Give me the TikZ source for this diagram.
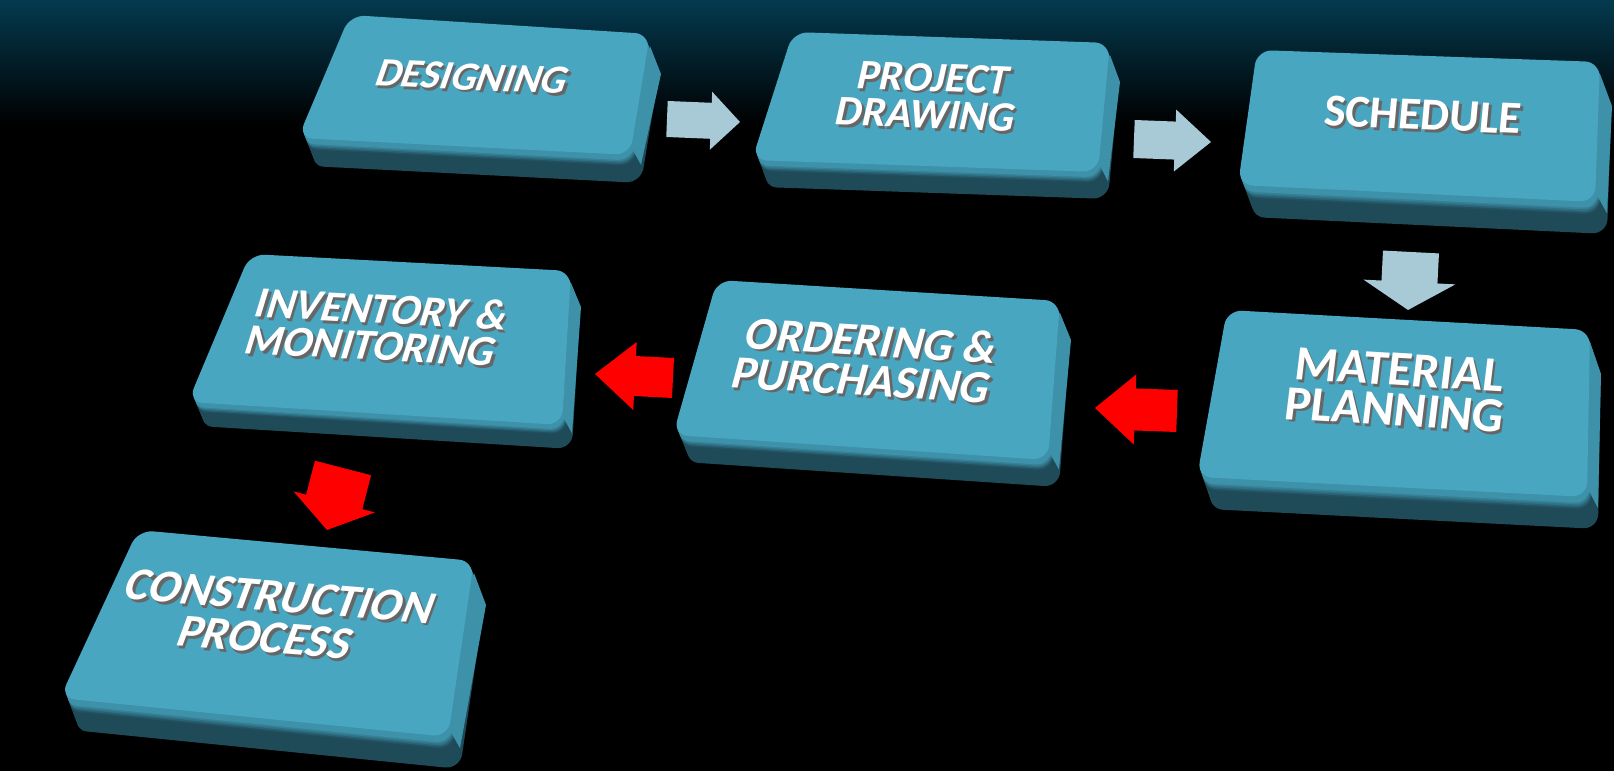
\documentclass[tikz,border=0pt]{standalone}
\usepackage{fontspec}
\setmainfont{Carlito}
\usetikzlibrary{calc}

\definecolor{keyface}{HTML}{48A6C0}
\definecolor{keyrimc}{HTML}{3D91A9}
\definecolor{keybasec}{HTML}{1F4B59}
\definecolor{paleblue}{HTML}{A8C9D6}
\definecolor{bgteal}{HTML}{043A4F}
\definecolor{letshade}{HTML}{666666}

\tikzstyle{face} = [fill=keyface, rounded corners=0.15cm]
\tikzstyle{solid} = [rounded corners=0.15cm]
\tikzstyle{keytext} = [align=center, text=white, inner sep=0pt]
\tikzstyle{pale} = [fill=paleblue]
\tikzstyle{hot} = [fill=red]

% key: name, four corners of the face, depth offset (x, y)
\newcommand{\keybox}[7]{%
  \coordinate (#1-tl) at #2;
  \coordinate (#1-tr) at #3;
  \coordinate (#1-br) at #4;
  \coordinate (#1-bl) at #5;
  \foreach \t in {1,0.95,...,0.04} {
    \pgfmathsetmacro\p{max(0,min(100,(\t-0.2)*450))}
    \fill[solid, fill=keybasec!\p!keyrimc]
      ([shift={(\t*#6,\t*#7)}]#1-tl) -- ([shift={(\t*#6,\t*#7)}]#1-tr)
      -- ([shift={(\t*#6,\t*#7)}]#1-br) -- ([shift={(\t*#6,\t*#7)}]#1-bl) -- cycle;
  }
  % lit right side
  \fill[keyrimc] ([yshift=-0.12cm]#1-tr) -- ([shift={(#6,#7)}, yshift=-0.12cm]#1-tr)
    -- ([shift={(#6,0.35*#7)}]#1-br) -- ([yshift=0.1cm]#1-br) -- cycle;
  \fill[face] (#1-tl) -- (#1-tr) -- (#1-br) -- (#1-bl) -- cycle;
}

% label: name, position, rotation, slant, font size, line skip, text
\newcommand{\keylabel}[7]{%
  \node[keytext, text=letshade, font=\bfseries\fontsize{#5}{#6}\selectfont,
        xshift=0.7pt, yshift=-0.8pt, rotate=#3, xslant=#4] at #2 {#7};
  \node[keytext, font=\bfseries\fontsize{#5}{#6}\selectfont,
        rotate=#3, xslant=#4] (#1) at #2 {#7};
}

% block arrow: style, tail, tip, body half width, head half width, head length
\newcommand{\blockarrow}[6]{%
  \coordinate (hb) at ($(#3)!#6!(#2)$);
  \fill[#1] ($(#2)!#4!90:(#3)$) -- ($(hb)!#4!90:(#3)$) -- ($(hb)!#5!90:(#3)$) -- (#3)
    -- ($(hb)!#5!-90:(#3)$) -- ($(hb)!#4!-90:(#3)$) -- ($(#2)!#4!-90:(#3)$) -- cycle;
}

\begin{document}
\begin{tikzpicture}[x=0.01cm, y=-0.01cm]
% backdrop
\fill[black] (0,0) rectangle (1614,771);
\shade[top color=bgteal, bottom color=black] (0,0) rectangle (1614,125);

% the keys
\keybox{k1}{(350,15)}{(650,34)}{(630,155)}{(298,138)}{11}{28}
\keybox{k2}{(793,32)}{(1110,43)}{(1098,172)}{(752,160)}{10}{27}
\keybox{k3}{(1257,50)}{(1600,62)}{(1595,202)}{(1238,185)}{12}{32}
\keybox{k4}{(1227,310)}{(1590,330)}{(1587,497)}{(1197,477)}{11}{32}
\keybox{k5}{(717,280)}{(1060,301)}{(1048,460)}{(673,435)}{11}{27}
\keybox{k6}{(250,254)}{(571,271)}{(562,425)}{(188,402)}{10}{24}
\keybox{k7}{(138,530)}{(474,561)}{(448,737)}{(60,698)}{12}{32}

\keylabel{design}{(473,77)}{-2.5}{0.3}{11.5}{10}{DESIGNING}
\keylabel{drawing}{(930,96)}{-2.3}{0.18}{12}{10.5}{PROJECT\\DRAWING}
\keylabel{schedule}{(1423,115)}{-2.4}{0.05}{13}{11}{SCHEDULE}
\keylabel{material}{(1397,390)}{-3.5}{0.06}{14}{11.5}{MATERIAL\\PLANNING}
\keylabel{ordering}{(867,360)}{-3.5}{0.2}{13.2}{11.4}{ORDERING \&\\PURCHASING}
\keylabel{inventory}{(377,327)}{-3}{0.25}{12.3}{10.5}{INVENTORY \&\\MONITORING}
\keylabel{construct}{(273,617)}{-4.6}{0.28}{13.2}{12}{CONSTRUCTION\\PROCESS}

% arrows between the keys
\coordinate (a1s) at (667,119);  \coordinate (a1e) at (740,122);
\coordinate (a2s) at (1134,139); \coordinate (a2e) at (1211,142);
\coordinate (a3s) at (1411,252); \coordinate (a3e) at (1408,310);
\coordinate (a4s) at (1177,411); \coordinate (a4e) at (1095,408);
\coordinate (a5s) at (673,378);  \coordinate (a5e) at (595,374);
\coordinate (a6s) at (343,468);  \coordinate (a6e) at (327,530);

\blockarrow{pale}{a1s}{a1e}{0.18cm}{0.29cm}{0.29cm}
\blockarrow{pale}{a2s}{a2e}{0.19cm}{0.31cm}{0.36cm}
\blockarrow{pale}{a3s}{a3e}{0.28cm}{0.46cm}{0.28cm}
\blockarrow{hot}{a4s}{a4e}{0.21cm}{0.35cm}{0.40cm}
\blockarrow{hot}{a5s}{a5e}{0.20cm}{0.34cm}{0.40cm}
\blockarrow{hot}{a6s}{a6e}{0.29cm}{0.42cm}{0.29cm}
\end{tikzpicture}
\end{document}
